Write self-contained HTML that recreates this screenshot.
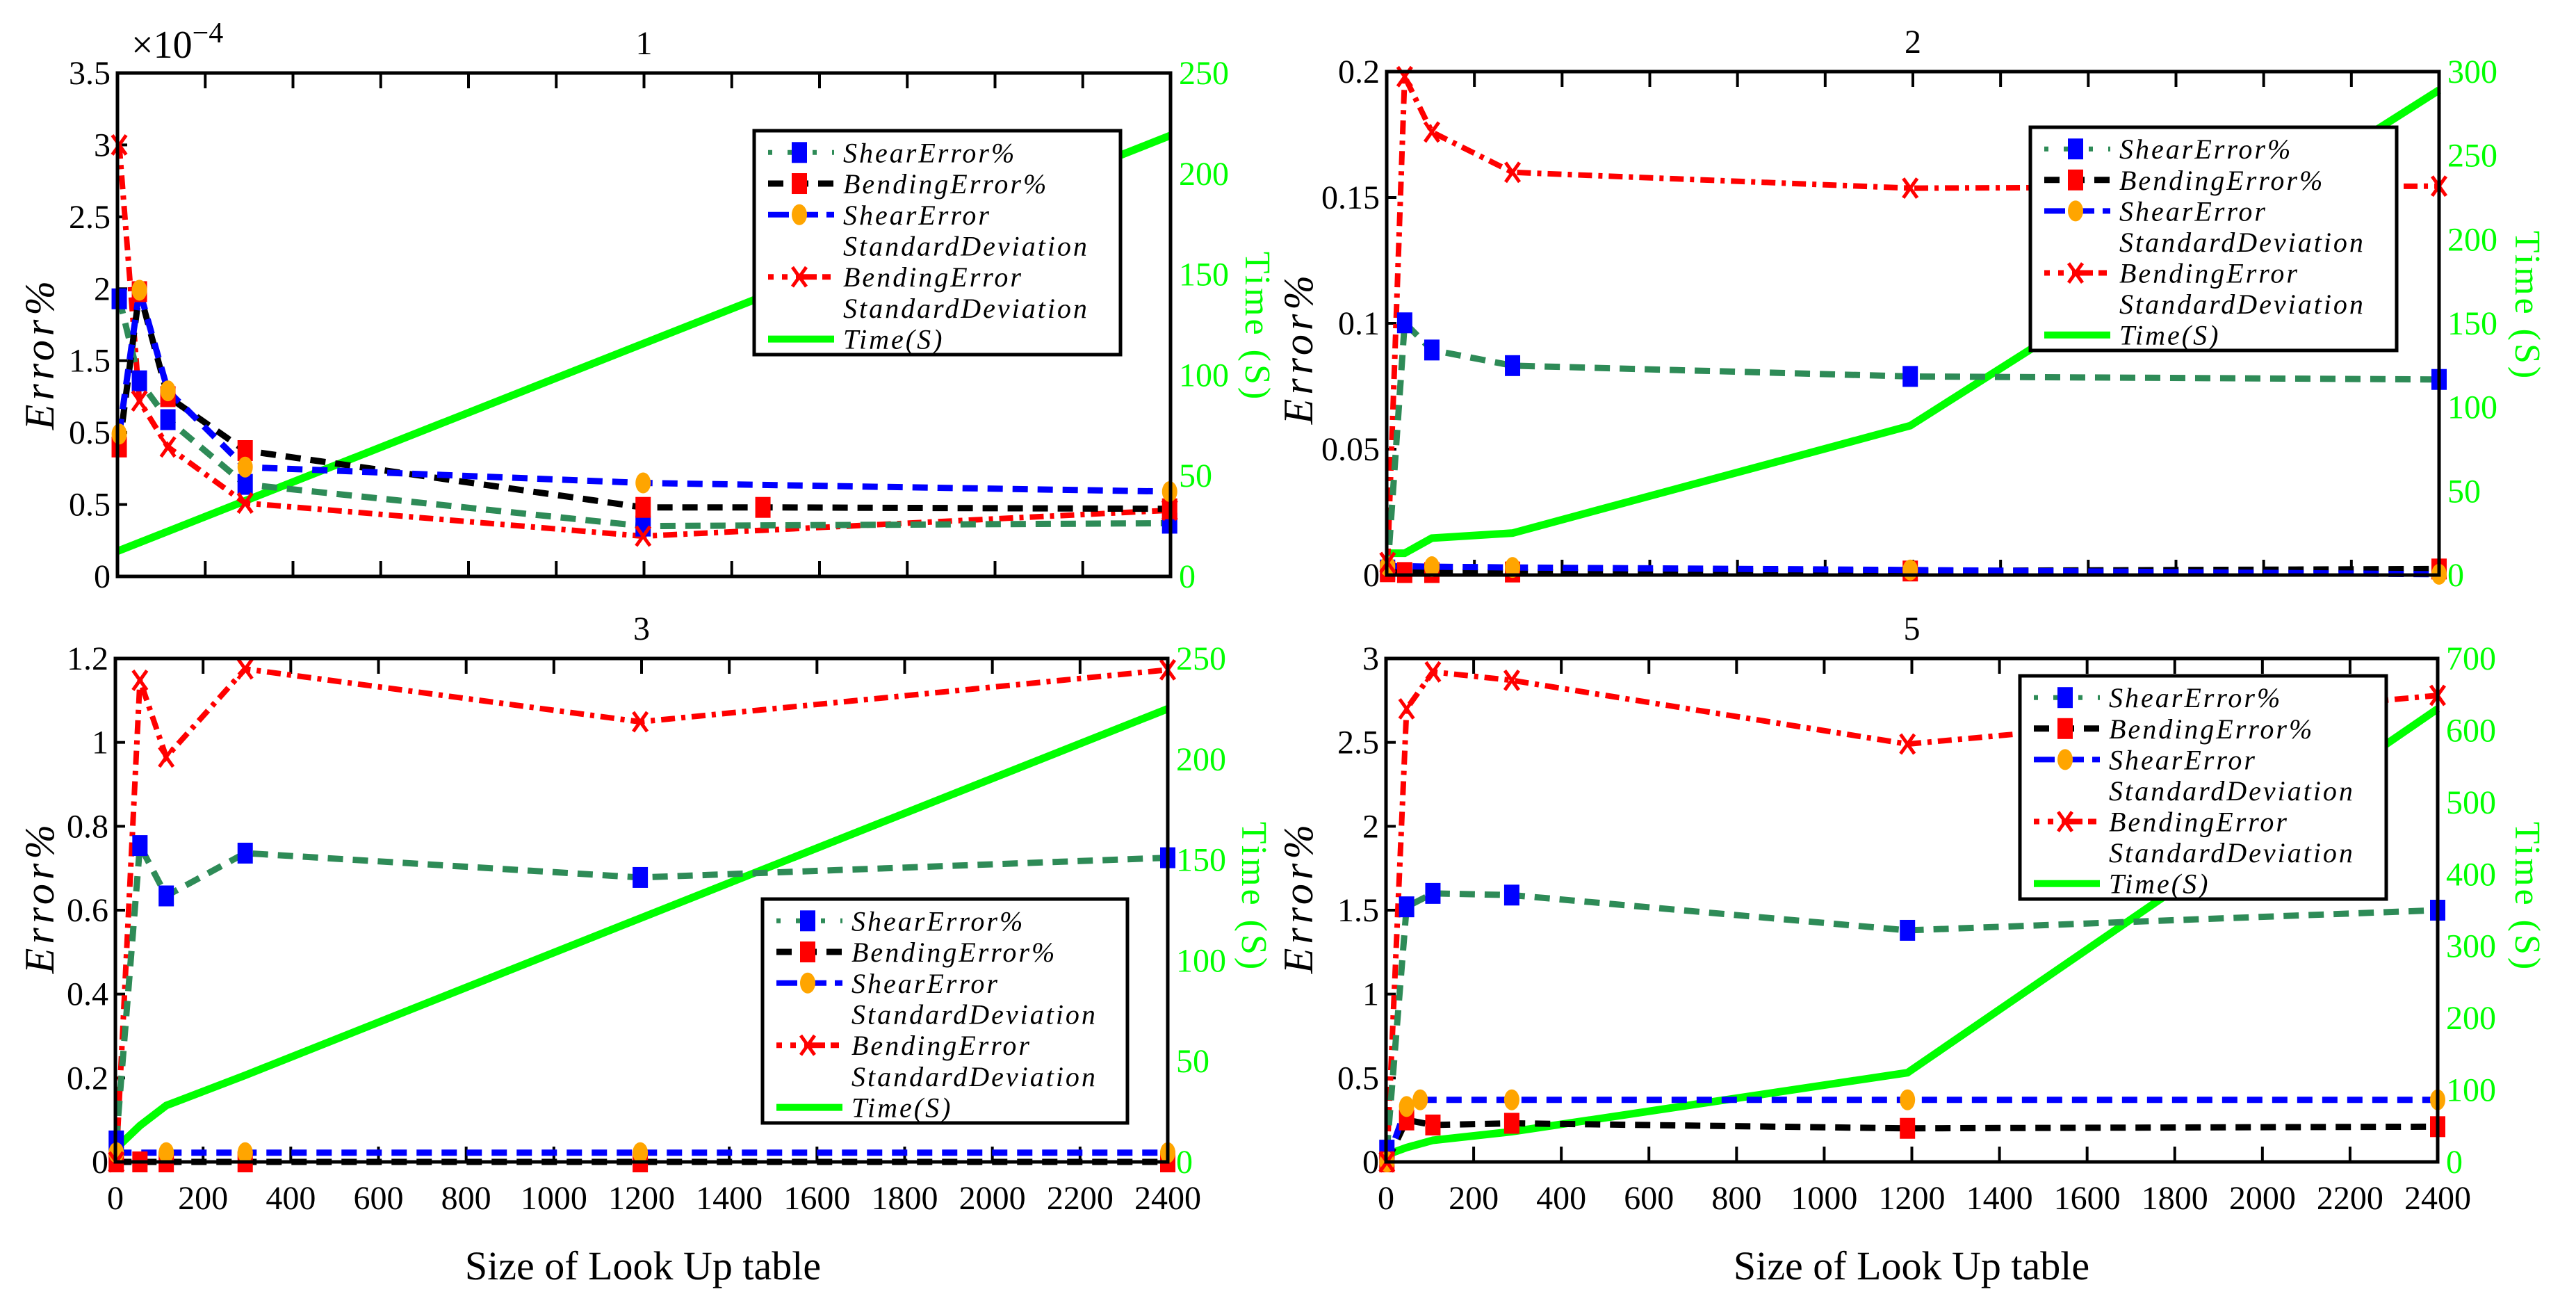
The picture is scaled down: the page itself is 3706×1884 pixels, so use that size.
<!DOCTYPE html>
<html><head><meta charset="utf-8"><style>
html,body{margin:0;padding:0;background:#fff;}
svg{display:block;}
text{font-family:"Liberation Serif",serif;}
</style></head><body>
<svg id="fig" width="3706" height="1884" viewBox="0 0 3706 1884" xmlns="http://www.w3.org/2000/svg"></svg>
<script>
// ---------- DATA ----------
const xTicks = [0,200,400,600,800,1000,1200,1400,1600,1800,2000,2200,2400];
// Panel 1 (x1e-4)
const p1Sizes = [4, 50, 115, 291, 1198, 2398];
const p1ShearErr = [1.93, 1.36, 1.09, 0.64, 0.35, 0.37];
const p1BendErrSizes = [4, 50, 115, 291, 1198, 1471, 2398];
const p1BendErr = [0.90, 1.98, 1.25, 0.875, 0.48, 0.48, 0.47];
const p1ShearSD = [0.99, 1.99, 1.29, 0.76, 0.65, 0.59];
const p1BendSD = [3.0, 1.22, 0.90, 0.51, 0.28, 0.46];
const p1Time = [12.5, 219];
const p1TimeSizes = [0, 2400];
const p1YTicks = [0,0.5,1,1.5,2,2.5,3,3.5];
const p1YLabels = ["0","0.5","0.5","1.5","2","2.5","3","3.5"];
const p1RTicks = [0,50,100,150,200,250];
// Panel 2
const p2Sizes = [2, 41, 103, 287, 1194, 2400];
const p2ShearErr = [0.002, 0.1002, 0.0894, 0.0832, 0.0789, 0.0777];
const p2BendErr = [0.0013, 0.0010, 0.0010, 0.0012, 0.0016, 0.0024];
const p2ShearSD = [0.0035, 0.0035, 0.0033, 0.0030, 0.0020, 0.0003];
const p2BendSD = [0.005, 0.198, 0.176, 0.160, 0.1537, 0.1545];
const p2Time = [13, 13, 22, 25, 89, 289];
const p2YTicks = [0,0.05,0.1,0.15,0.2];
const p2YLabels = ["0","0.05","0.1","0.15","0.2"];
const p2RTicks = [0,50,100,150,200,250,300];
// Panel 3
const p3Sizes = [2, 56, 116, 296, 1197, 2400];
const p3ShearErr = [0.05, 0.754, 0.634, 0.736, 0.678, 0.725];
const p3BendErr = [0, 0, 0, 0, 0, 0];
const p3ShearSD = [0.022, 0.022, 0.022, 0.022, 0.022, 0.022];
const p3BendSD = [0.0, 1.148, 0.965, 1.175, 1.049, 1.173];
const p3Time = [6.8, 18, 28, 43, 121, 225];
const p3YTicks = [0,0.2,0.4,0.6,0.8,1,1.2];
const p3YLabels = ["0","0.2","0.4","0.6","0.8","1","1.2"];
const p3RTicks = [0,50,100,150,200,250];
// Panel 5
const p5Sizes = [2, 47, 107, 287, 1190, 2400];
const p5ShearErr = [0.07, 1.52, 1.60, 1.59, 1.38, 1.50];
const p5BendErr = [0, 0.25, 0.22, 0.23, 0.20, 0.21];
const p5ShearSDSizes = [2, 47, 78, 287, 1190, 2400];
const p5ShearSD = [0, 0.33, 0.37, 0.37, 0.37, 0.37];
const p5BendSD = [0, 2.70, 2.92, 2.87, 2.49, 2.78];
const p5Time = [10, 20, 30, 42, 124, 630];
const p5YTicks = [0,0.5,1,1.5,2,2.5,3];
const p5YLabels = ["0","0.5","1","1.5","2","2.5","3"];
const p5RTicks = [0,100,200,300,400,500,600,700];

// ---------- DRAWING ----------
const NS = "http://www.w3.org/2000/svg";
const svg = document.getElementById('fig');
function mk(tag, attrs, parent){const e=document.createElementNS(NS,tag);for(const k in attrs)e.setAttribute(k,attrs[k]);(parent||svg).appendChild(e);return e;}

const GREEN="#2e8b57", LIME="#00ff00";
const panels = [
 {id:"1",L:169,R:1684,T:105,B:829,yMax:3.5,rMax:250,yT:p1YTicks,yL:p1YLabels,rT:p1RTicks,bottom:false,exp:true,
  shear:[p1Sizes,p1ShearErr],bend:[p1BendErrSizes,p1BendErr],ssd:[p1Sizes,p1ShearSD],bsd:[p1Sizes,p1BendSD],time:[p1TimeSizes,p1Time],
  leg:[1085,188,1612,510],ylab:[57,508],rlab:[1810,470]},
 {id:"2",L:1995,R:3509,T:103,B:827,yMax:0.2,rMax:300,yT:p2YTicks,yL:p2YLabels,rT:p2RTicks,bottom:false,
  shear:[p2Sizes,p2ShearErr],bend:[p2Sizes,p2BendErr],ssd:[p2Sizes,p2ShearSD],bsd:[p2Sizes,p2BendSD],time:[p2Sizes,p2Time],
  leg:[2921,183,3448,504],ylab:[1868,500],rlab:[3637,440]},
 {id:"3",L:166,R:1680,T:947,B:1671,yMax:1.2,rMax:250,yT:p3YTicks,yL:p3YLabels,rT:p3RTicks,bottom:true,
  shear:[p3Sizes,p3ShearErr],bend:[p3Sizes,p3BendErr],ssd:[p3Sizes,p3ShearSD],bsd:[p3Sizes,p3BendSD],time:[p3Sizes,p3Time],
  leg:[1097,1293,1622,1615],ylab:[57,1290],rlab:[1805,1290]},
 {id:"5",L:1994,R:3507,T:947,B:1671,yMax:3,rMax:700,yT:p5YTicks,yL:p5YLabels,rT:p5RTicks,bottom:true,
  shear:[p5Sizes,p5ShearErr],bend:[p5Sizes,p5BendErr],ssd:[p5ShearSDSizes,p5ShearSD],bsd:[p5Sizes,p5BendSD],time:[p5Sizes,p5Time],
  leg:[2906,972,3433,1293],ylab:[1868,1290],rlab:[3637,1290]}
];

function square(g,x,y,fill){const r=mk('rect',{x:x-11,y:y-15,width:22,height:30,fill:fill},g);}
function circ(g,x,y){const c=mk('ellipse',{cx:x,cy:y,rx:11,ry:15,fill:'#ffa500'},g);}
function cross(g,x,y){const p=mk('path',{d:`M${x-10},${y-14}L${x+10},${y+14}M${x+10},${y-14}L${x-10},${y+14}`,stroke:'#ff0000','stroke-width':5,fill:'none'},g);}

panels.forEach(P=>{
  const g = mk('g',{});
  
  
  const sx = v=>P.L+(P.R-P.L)*v/2400;
  const sy = v=>P.B-(P.B-P.T)*v/P.yMax;
  const sr = v=>P.B-(P.B-P.T)*v/P.rMax;
  const t=mk('text',{x:(P.L+P.R)/2,y:P.T-27,'font-size':48,'text-anchor':'middle'},g);t.textContent=P.id;
  
  if(P.exp){const e=mk('text',{x:P.L+20,y:P.T-22,'font-size':56},g);e.innerHTML='×10<tspan dy="-22" font-size="42">−4</tspan>';
    }
  xTicks.forEach(v=>{
    mk('line',{x1:sx(v),x2:sx(v),y1:P.T,y2:P.T+22,stroke:'#000','stroke-width':4},g);
    mk('line',{x1:sx(v),x2:sx(v),y1:P.B,y2:P.B-22,stroke:'#000','stroke-width':4},g);
    if(P.bottom){const l=mk('text',{x:sx(v),y:P.B+68,'font-size':48,'text-anchor':'middle'},g);l.textContent=v;
      }
  });
  P.yT.forEach((v,i)=>{
    mk('line',{x1:P.L,x2:P.L+14,y1:sy(v),y2:sy(v),stroke:'#000','stroke-width':4},g);
    const l=mk('text',{x:P.L-10,y:sy(v)+16,'font-size':48,'text-anchor':'end'},g);l.textContent=P.yL[i];
    
  });
  P.rT.forEach(v=>{
    const l=mk('text',{x:P.R+12,y:sr(v)+16,'font-size':48,fill:LIME},g);l.textContent=v;
    
  });
  const poly=(xs,ys,sc,col,w,dash,name)=>{const pts=xs.map((x,i)=>sx(x)+','+sc(ys[i])).join(' ');
    const p=mk('polyline',{points:pts,fill:'none',stroke:col,'stroke-width':w,'stroke-dasharray':dash||'none'},g);
    return p;};
  poly(P.time[0],P.time[1],sr,LIME,11,null,'time-line');
  poly(P.bsd[0],P.bsd[1],sy,'#ff0000',8,'20 9 6 9','bending-sd-line');
  poly(P.shear[0],P.shear[1],sy,GREEN,9,'22 14','shear-error-line');
  poly(P.bend[0],P.bend[1],sy,'#000',9,'22 14','bending-error-line');
  poly(P.ssd[0],P.ssd[1],sy,'#0000ff',9,'22 14','shear-sd-line');
  P.shear[0].forEach((x,i)=>square(g,sx(x),sy(P.shear[1][i]),'#0000ff'));
  P.bend[0].forEach((x,i)=>square(g,sx(x),sy(P.bend[1][i]),'#ff0000'));
  P.ssd[0].forEach((x,i)=>{ if(i!==1||P.id==='1'||P.id==='5') circ(g,sx(x),sy(P.ssd[1][i]));});
  P.bsd[0].forEach((x,i)=>cross(g,sx(x),sy(P.bsd[1][i])));
  const fr=mk('rect',{x:P.L,y:P.T,width:P.R-P.L,height:P.B-P.T,fill:'none',stroke:'#000','stroke-width':5},g);
  
  const yl=mk('text',{x:0,y:0,'font-size':60,'font-style':'italic','letter-spacing':6,'text-anchor':'middle',transform:`translate(${P.ylab[0]+20},${P.ylab[1]}) rotate(-90)`},g);
  yl.textContent='Error%';
  const rl=mk('text',{x:0,y:0,'font-size':52,fill:LIME,'letter-spacing':4,'text-anchor':'middle',transform:`translate(${P.rlab[0]-18},${P.rlab[1]}) rotate(90)`},g);
  rl.textContent='Time (S)';
  const [lx,ly,lx2,ly2]=P.leg;
  const lg=mk('g',{},g);
  mk('rect',{x:lx,y:ly,width:lx2-lx,height:ly2-ly,fill:'#fff',stroke:'#000','stroke-width':5},lg);
  const lh=(ly2-ly)/7.2;
  const rows=[['Shear Error%',null,0],['Bending Error%',null,1],['Shear Error','Standard Deviation',2],['Bending Error','Standard Deviation',4],['Time(S)',null,6]];
  const tx=lx+128, s0=lx+20, s1=lx+115, mx=lx+65;
  rows.forEach((r,k)=>{
    const cy=ly+lh*(r[2]+0.7);
    const e=mk('g',{},lg);
    if(k===0){mk('line',{x1:s0,x2:s1,y1:cy,y2:cy,stroke:GREEN,'stroke-width':7,'stroke-dasharray':'6 22 22 14'},e);square(e,mx,cy,'#0000ff');}
    if(k===1){mk('line',{x1:s0,x2:s1,y1:cy,y2:cy,stroke:'#000','stroke-width':9,'stroke-dasharray':'22 14'},e);square(e,mx,cy,'#ff0000');}
    if(k===2){mk('line',{x1:s0,x2:s1,y1:cy,y2:cy,stroke:'#0000ff','stroke-width':8,'stroke-dasharray':'30 12'},e);circ(e,mx,cy);}
    if(k===3){mk('line',{x1:s0,x2:s1,y1:cy,y2:cy,stroke:'#ff0000','stroke-width':8,'stroke-dasharray':'8 12 8 12 30'},e);cross(e,mx,cy);}
    if(k===4){mk('line',{x1:s0,x2:s1,y1:cy,y2:cy,stroke:LIME,'stroke-width':10},e);}
    const t1=mk('text',{x:tx,y:cy+14,'font-size':40,'font-style':'italic','letter-spacing':3},e);t1.textContent=r[0].replace(' ','');
    if(r[1]){const t2=mk('text',{x:tx,y:cy+lh+14,'font-size':40,'font-style':'italic','letter-spacing':3},e);t2.textContent=r[1].replace(' ','');}
  });
  svg.appendChild(g);
});
[[925,'x-axis-title-left'],[2750,'x-axis-title-right']].forEach(a=>{
  const t=mk('text',{x:a[0],y:1840,'font-size':58,'text-anchor':'middle'});t.textContent='Size of Look Up table';
  
});
</script>
</body></html>
